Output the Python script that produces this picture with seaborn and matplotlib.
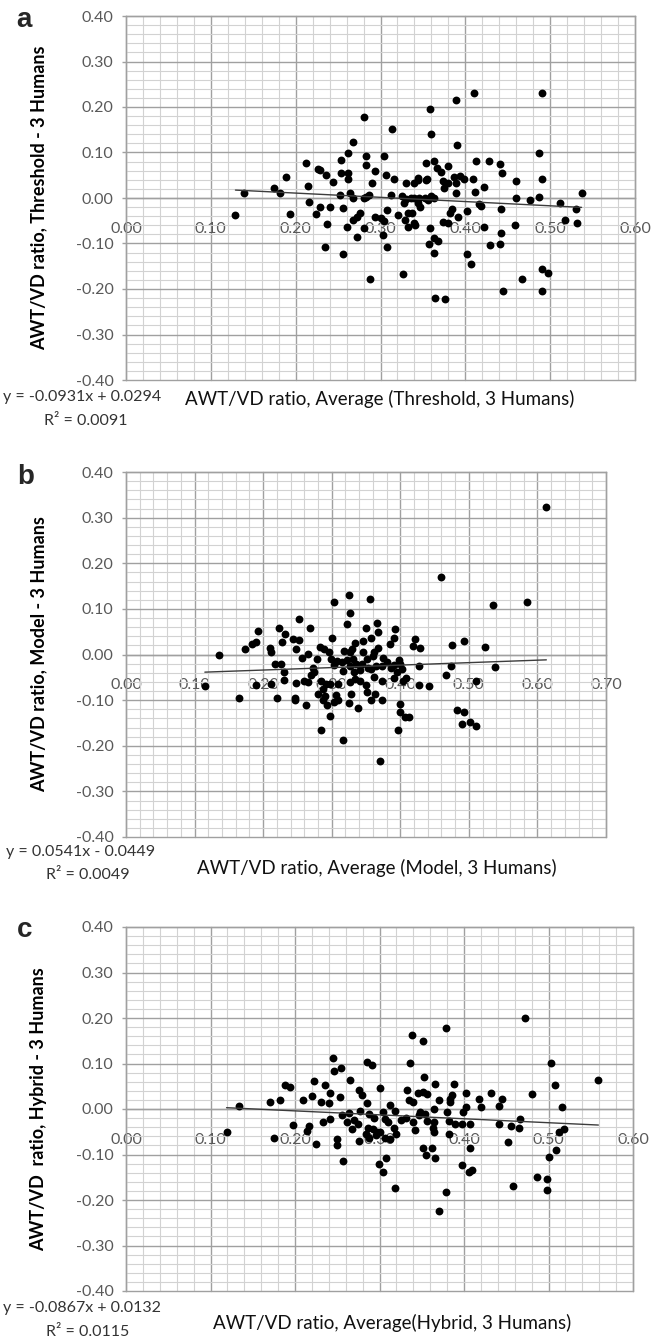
import matplotlib
matplotlib.use("Agg")
import matplotlib.pyplot as plt
import seaborn as sns
from matplotlib.ticker import MultipleLocator, FuncFormatter

# ---------------- data ----------------
a_x = [0.410,0.490,0.389,0.358,0.280,0.314,0.359,0.268,0.390,0.487,
       0.262,0.283,0.304,0.254,0.212,0.354,0.363,0.413,0.428,0.441,
       0.283,0.226,0.229,0.367,0.379,0.371,0.443,0.254,0.262,0.236,
       0.294,0.306,0.189,0.262,0.316,0.344,0.355,0.387,0.394,0.398,
       0.409,0.490,0.244,0.290,0.330,0.340,0.344,0.354,0.374,0.379,
       0.389,0.460,0.215,0.422,0.175,0.181,0.139,0.537,0.264,0.375,
       0.389,0.411,0.252,0.283,0.287,0.267,0.280,0.312,0.325,0.330,
       0.336,0.340,0.345,0.352,0.359,0.363,0.460,0.476,0.487,0.216,
       0.328,0.344,0.356,0.512,0.229,0.240,0.256,0.308,0.347,0.416,
       0.419,0.442,0.530,0.193,0.224,0.276,0.272,0.294,0.300,0.321,
       0.332,0.337,0.384,0.382,0.402,0.391,0.129,0.268,0.304,0.329,
       0.340,0.374,0.379,0.517,0.532,0.237,0.261,0.281,0.332,0.341,
       0.358,0.422,0.459,0.303,0.442,0.272,0.363,0.368,0.357,0.429,
       0.441,0.234,0.308,0.256,0.363,0.402,0.407,0.326,0.288,0.490,
       0.497,0.467,0.444,0.490,0.364,0.376]
a_y = [0.230,0.230,0.215,0.196,0.177,0.152,0.141,0.122,0.116,0.100,
       0.100,0.092,0.092,0.084,0.076,0.078,0.082,0.081,0.081,0.074,
       0.073,0.064,0.062,0.067,0.071,0.058,0.054,0.056,0.054,0.051,
       0.059,0.051,0.047,0.042,0.042,0.045,0.042,0.047,0.048,0.042,
       0.042,0.042,0.035,0.032,0.032,0.034,0.040,0.040,0.037,0.032,
       0.032,0.037,0.026,0.025,0.021,0.010,0.010,0.012,0.012,0.021,
       0.012,0.014,0.006,0.003,0.006,-0.001,-0.001,0.006,0.004,-0.003,
       0.000,-0.001,0.001,0.001,0.004,0.000,-0.001,-0.004,0.003,-0.009,
       -0.010,-0.010,-0.004,-0.010,-0.019,-0.019,-0.023,-0.026,-0.019,-0.013,
       -0.018,-0.024,-0.025,-0.035,-0.035,-0.032,-0.041,-0.042,-0.044,-0.037,
       -0.034,-0.032,-0.025,-0.032,-0.029,-0.041,-0.037,-0.048,-0.050,-0.048,
       -0.056,-0.053,-0.054,-0.048,-0.054,-0.057,-0.063,-0.066,-0.063,-0.060,
       -0.066,-0.063,-0.060,-0.081,-0.076,-0.086,-0.089,-0.094,-0.101,-0.103,
       -0.101,-0.107,-0.108,-0.123,-0.120,-0.123,-0.145,-0.166,-0.179,-0.155,
       -0.164,-0.177,-0.204,-0.204,-0.220,-0.221]

b_x = [0.613,0.459,0.325,0.356,0.303,0.535,0.585,0.326,0.322,0.252,
       0.366,0.268,0.350,0.393,0.192,0.223,0.232,0.300,0.391,0.367,
       0.357,0.493,0.243,0.252,0.334,0.346,0.189,0.184,0.174,0.227,
       0.283,0.289,0.296,0.318,0.326,0.330,0.368,0.385,0.422,0.418,
       0.429,0.476,0.524,0.210,0.212,0.248,0.266,0.256,0.135,0.279,
       0.375,0.398,0.346,0.351,0.360,0.362,0.299,0.307,0.315,0.322,
       0.331,0.336,0.218,0.226,0.381,0.391,0.400,0.428,0.474,0.538,
       0.273,0.303,0.327,0.344,0.353,0.357,0.365,0.373,0.387,0.231,
       0.274,0.317,0.332,0.341,0.395,0.402,0.467,0.409,0.230,0.270,
       0.266,0.259,0.248,0.285,0.291,0.288,0.297,0.309,0.326,0.334,
       0.341,0.350,0.362,0.373,0.391,0.404,0.442,0.427,0.115,0.190,
       0.211,0.510,0.280,0.290,0.288,0.306,0.309,0.304,0.293,0.328,
       0.351,0.363,0.357,0.373,0.165,0.220,0.246,0.247,0.262,0.325,
       0.339,0.399,0.400,0.407,0.412,0.483,0.493,0.490,0.501,0.510,
       0.297,0.284,0.397,0.316,0.370]
b_y = [0.323,0.169,0.130,0.122,0.114,0.108,0.114,0.090,0.067,0.078,
       0.068,0.059,0.058,0.055,0.052,0.058,0.046,0.037,0.036,0.049,
       0.037,0.029,0.033,0.032,0.026,0.029,0.027,0.023,0.011,0.027,
       0.017,0.012,0.005,0.008,0.005,0.011,0.015,0.024,0.033,0.018,
       0.014,0.020,0.017,0.015,0.005,0.011,0.001,-0.008,-0.001,-0.010,
       -0.008,-0.011,0.005,-0.010,-0.004,0.005,-0.010,-0.015,-0.017,-0.012,
       -0.010,-0.021,-0.020,-0.021,-0.017,-0.023,-0.020,-0.026,-0.026,-0.027,
       -0.029,-0.024,-0.026,-0.021,-0.029,-0.032,-0.026,-0.026,-0.029,-0.039,
       -0.039,-0.036,-0.039,-0.034,-0.039,-0.032,-0.045,-0.051,-0.056,-0.046,
       -0.061,-0.058,-0.062,-0.059,-0.065,-0.075,-0.064,-0.065,-0.061,-0.053,
       -0.058,-0.067,-0.049,-0.058,-0.052,-0.058,-0.068,-0.067,-0.070,-0.067,
       -0.065,-0.058,-0.087,-0.090,-0.100,-0.089,-0.099,-0.105,-0.111,-0.086,
       -0.083,-0.087,-0.100,-0.100,-0.096,-0.096,-0.095,-0.099,-0.111,-0.106,
       -0.118,-0.108,-0.127,-0.137,-0.136,-0.122,-0.125,-0.153,-0.149,-0.156,
       -0.134,-0.166,-0.165,-0.187,-0.234]

c_x = [0.472,0.379,0.339,0.352,0.245,0.285,0.291,0.336,0.254,0.246,
       0.503,0.265,0.353,0.188,0.194,0.222,0.236,0.300,0.366,0.388,
       0.508,0.559,0.241,0.276,0.332,0.345,0.351,0.356,0.402,0.386,
       0.432,0.480,0.210,0.220,0.253,0.279,0.171,0.182,0.231,0.240,
       0.285,0.335,0.340,0.371,0.383,0.384,0.418,0.445,0.313,0.134,
       0.516,0.420,0.441,0.277,0.304,0.318,0.348,0.354,0.364,0.380,
       0.402,0.399,0.466,0.198,0.217,0.233,0.242,0.256,0.264,0.261,
       0.270,0.274,0.287,0.294,0.306,0.310,0.325,0.331,0.340,0.347,
       0.356,0.365,0.382,0.389,0.398,0.407,0.441,0.456,0.465,0.214,
       0.268,0.286,0.292,0.297,0.301,0.317,0.342,0.363,0.365,0.382,
       0.518,0.512,0.119,0.175,0.225,0.250,0.250,0.276,0.284,0.288,
       0.296,0.307,0.312,0.320,0.452,0.407,0.351,0.362,0.355,0.366,
       0.509,0.500,0.308,0.299,0.304,0.257,0.398,0.406,0.409,0.486,
       0.498,0.498,0.458,0.318,0.379,0.371]
c_y = [0.199,0.177,0.162,0.150,0.111,0.104,0.096,0.102,0.091,0.083,
       0.102,0.064,0.071,0.053,0.048,0.061,0.053,0.047,0.054,0.054,
       0.053,0.063,0.035,0.041,0.041,0.035,0.038,0.032,0.035,0.031,
       0.036,0.032,0.020,0.028,0.026,0.031,0.016,0.019,0.016,0.013,
       0.013,0.019,0.016,0.020,0.015,0.022,0.022,0.023,0.009,0.006,
       0.004,0.004,0.006,-0.004,-0.007,-0.004,-0.006,-0.010,-0.001,-0.007,
       0.004,-0.006,-0.022,-0.036,-0.038,-0.029,-0.023,-0.013,-0.009,-0.029,
       -0.025,-0.032,-0.012,-0.020,-0.023,-0.028,-0.025,-0.020,-0.029,-0.013,
       -0.026,-0.029,-0.026,-0.032,-0.032,-0.034,-0.032,-0.038,-0.042,-0.048,
       -0.045,-0.042,-0.045,-0.050,-0.051,-0.041,-0.047,-0.041,-0.051,-0.054,
       -0.045,-0.051,-0.051,-0.064,-0.076,-0.066,-0.079,-0.070,-0.054,-0.063,
       -0.057,-0.064,-0.067,-0.055,-0.072,-0.085,-0.086,-0.086,-0.101,-0.108,
       -0.091,-0.105,-0.107,-0.121,-0.139,-0.114,-0.123,-0.139,-0.134,-0.150,
       -0.153,-0.178,-0.169,-0.174,-0.182,-0.225]

# trendline coefficients as printed on the chart
slopes = [-0.0931, 0.0541, -0.0867]
intercepts = [0.0294, -0.0449, 0.0132]
r2_values = ["0.0091", "0.0049", "0.0115"]
equations = ["y = -0.0931x + 0.0294", "y = 0.0541x - 0.0449", "y = -0.0867x + 0.0132"]
x_max = [0.60, 0.70, 0.60]
letters = ["a", "b", "c"]
y_labels = ["AWT/VD ratio, Threshold - 3 Humans",
            "AWT/VD ratio, Model - 3 Humans",
            "AWT/VD  ratio, Hybrid - 3 Humans"]
x_labels = ["AWT/VD ratio, Average (Threshold, 3 Humans)",
            "AWT/VD ratio, Average (Model, 3 Humans)",
            "AWT/VD ratio, Average(Hybrid, 3 Humans)"]

# ---------------- style ----------------
sns.set_style("white")
plt.rcParams["font.family"] = ["Lato", "DejaVu Sans"]
plt.rcParams["axes.unicode_minus"] = False

W, H = 664, 1339
fig = plt.figure(figsize=(W / 100, H / 100), dpi=100)

MAJOR = "#a0a0a0"
MINOR = "#d2d2d2"
TICKC = "#595959"

# layout in pixels: axes box (left, top, right, bottom) and text anchors
boxes = [(126, 16, 635, 380), (126, 472, 606, 837), (126, 927, 633, 1291)]
letter_pos = [(24, 20), (26, 477), (25, 930)]
eq_pos = [(3, 397), (6, 852), (3, 1308)]
r2_pos = [(86, 421), (88, 875), (88, 1332)]
xl_pos = [(380, 399), (377, 868), (392, 1323)]
yl_x = 47


def fx(px):
    return px / W


def fy(py):
    return 1 - py / H


datasets = [(a_x, a_y), (b_x, b_y), (c_x, c_y)]

for i, (xs, ys) in enumerate(datasets):
    l, t, r, b = boxes[i]
    ax = fig.add_axes([l / W, 1 - b / H, (r - l) / W, (b - t) / H])
    ax.set_axisbelow(True)

    sns.scatterplot(x=xs, y=ys, ax=ax, color="black", s=32, linewidth=0,
                    legend=False, zorder=3)
    lx = [min(xs), max(xs)]
    ly = [slopes[i] * v + intercepts[i] for v in lx]
    sns.lineplot(x=lx, y=ly, ax=ax, color="#3c3c3c", linewidth=1.0,
                 legend=False, zorder=4)

    ax.set_xlim(0, x_max[i])
    ax.set_ylim(-0.4, 0.4)
    ax.xaxis.set_major_locator(MultipleLocator(0.1))
    ax.xaxis.set_minor_locator(MultipleLocator(0.02))
    ax.yaxis.set_major_locator(MultipleLocator(0.1))
    ax.yaxis.set_minor_locator(MultipleLocator(0.02))
    fmt = FuncFormatter(lambda v, p: f"{v:.2f}" if abs(v) > 1e-9 else "0.00")
    ax.xaxis.set_major_formatter(fmt)
    ax.yaxis.set_major_formatter(fmt)

    ax.grid(which="major", color=MAJOR, linewidth=1.0)
    ax.grid(which="minor", color=MINOR, linewidth=0.8)

    for sp in ["left", "right", "top"]:
        ax.spines[sp].set_color(MAJOR)
        ax.spines[sp].set_linewidth(1.0)
    ax.spines["bottom"].set_position(("data", 0))
    ax.spines["bottom"].set_color(MAJOR)
    ax.spines["bottom"].set_linewidth(1.0)

    ax.tick_params(axis="x", which="both", length=0, pad=17,
                   labelsize=11.5, labelcolor=TICKC)
    ax.tick_params(axis="y", which="major", length=3, width=1, color=MAJOR,
                   pad=6, labelsize=11.5, labelcolor=TICKC, left=True)
    ax.tick_params(axis="y", which="minor", length=0)

    # make the outer gridlines (e.g. the -0.40 border) fully visible
    for tk in ax.yaxis.get_major_ticks() + ax.xaxis.get_major_ticks():
        tk.gridline.set_clip_on(False)

    ax.set_xlabel("")
    ax.set_ylabel(y_labels[i], fontsize=13, fontweight="bold", color="black")
    ax.yaxis.set_label_coords((yl_x - l) / (r - l), 0.5)

    fig.text(fx(letter_pos[i][0]), fy(letter_pos[i][1]), letters[i],
             ha="center", va="center", fontsize=20, fontweight="bold",
             family=["Liberation Sans", "DejaVu Sans"])
    fig.text(fx(eq_pos[i][0]), fy(eq_pos[i][1]), equations[i],
             ha="left", va="center", fontsize=11.5, color="#333333")
    fig.text(fx(r2_pos[i][0]), fy(r2_pos[i][1]), f"R² = {r2_values[i]}",
             ha="center", va="center", fontsize=11.5, color="#333333")
    fig.text(fx(xl_pos[i][0]), fy(xl_pos[i][1]), x_labels[i],
             ha="center", va="center", fontsize=13.5, color="#111111")

fig.savefig("out.png", dpi=100)
